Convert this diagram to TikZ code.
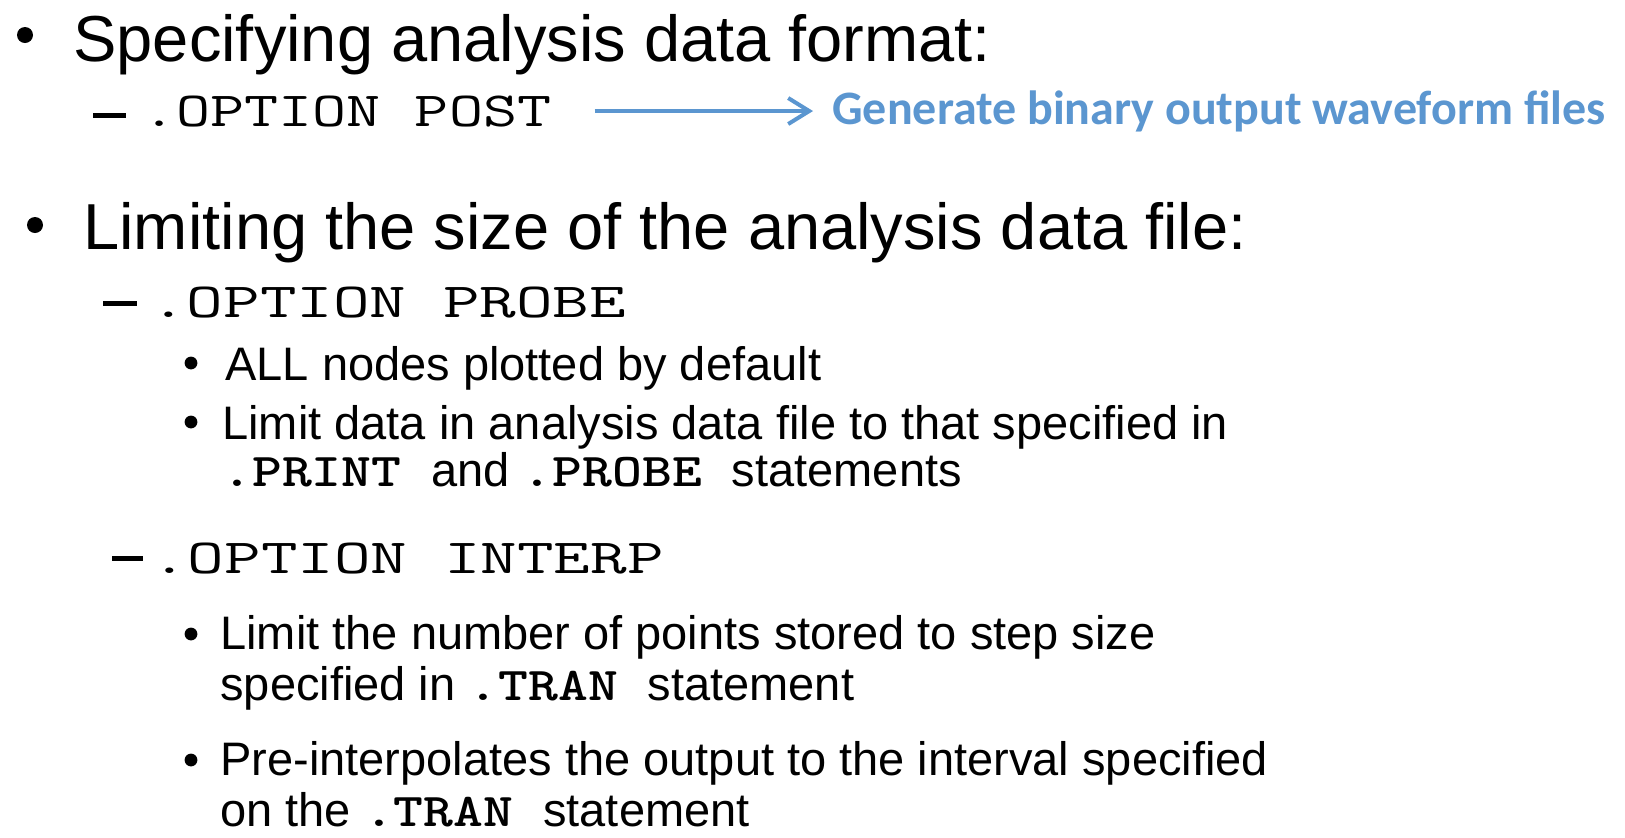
\documentclass[tikz,border=0pt]{standalone}
\usepackage{fontspec}
\usepackage{graphicx}
\usepackage{xcolor}
\usepackage{tikz}
\usetikzlibrary{arrows.meta}
\setmainfont{Liberation Sans}
\newfontfamily\notefont{Carlito}
\definecolor{noteblue}{RGB}{91,150,208}
\newcommand{\cour}[2][1.21]{\scalebox{#1}[1]{\ttfamily #2}}
\tikzset{
  head/.style={anchor=base west, inner sep=0pt, font=\fontsize{32.5}{39}\selectfont},
  opt/.style={anchor=base west, inner sep=0pt, font=\fontsize{24.5}{29}\selectfont},
  sub/.style={anchor=base west, inner sep=0pt, font=\fontsize{23.5}{28}\selectfont},
  note/.style={anchor=base west, inner sep=0pt, text=noteblue, font=\fontsize{24}{29}\notefont\bfseries\selectfont},
  dashline/.style={line width=2.5pt},
  flow/.style={noteblue, line width=2pt, -{Straight Barb[length=10.5pt,width=13pt]}}
}
\begin{document}
\begin{tikzpicture}[x=0.5pt,y=-0.5pt]
\useasboundingbox[fill=white] (0,0) rectangle (1625,837);

\fill (25,35) circle (4pt);
\fill (35,225) circle (4pt);
\fill (191,363) circle (3.2pt);
\fill (191,422) circle (3.2pt);
\fill (191,634) circle (3.2pt);
\fill (191,760) circle (3.2pt);

\draw[dashline] (93,115) -- (126,115);
\draw[dashline] (103,303) -- (137,303);
\draw[dashline] (112,558) -- (143,558);

\node[head] (fmt) at (73,61) {Specifying analysis data format:};
\node[opt] (post) at (142,126) {\cour[1.35]{.OPTION POST}};
\node[note] (gen) at (832,124) {Generate binary output waveform files};
\draw[flow, shorten <=21.5pt, shorten >=9.5pt] (post.east) -- (post.east -| gen.west);

\node[head] (size) at (83,249) {Limiting the size of the analysis data file:};
\node[opt] (probe) at (150,317) {\cour[1.45]{.OPTION PROBE}};
\node[sub] (all) at (225,380) {ALL nodes plotted by default};
\node[sub] (lim) at (222,439) {Limit data in analysis data file to that specified in};
\node[sub] (stmt) at (222,486) {\cour{\bfseries .PRINT\ }and \cour{\bfseries .PROBE\ }statements};

\node[opt] (interp) at (151,573) {\cour[1.45]{.OPTION INTERP}};
\node[sub] (pts) at (220,649) {Limit the number of points stored to step size};
\node[sub] (tran) at (220,700) {specified in \cour{\bfseries .TRAN\ }statement};
\node[sub] (pre) at (220,775) {Pre-interpolates the output to the interval specified};
\node[sub] (tran2) at (220,826) {on the \cour{\bfseries .TRAN\ }statement};
\end{tikzpicture}
\end{document}
